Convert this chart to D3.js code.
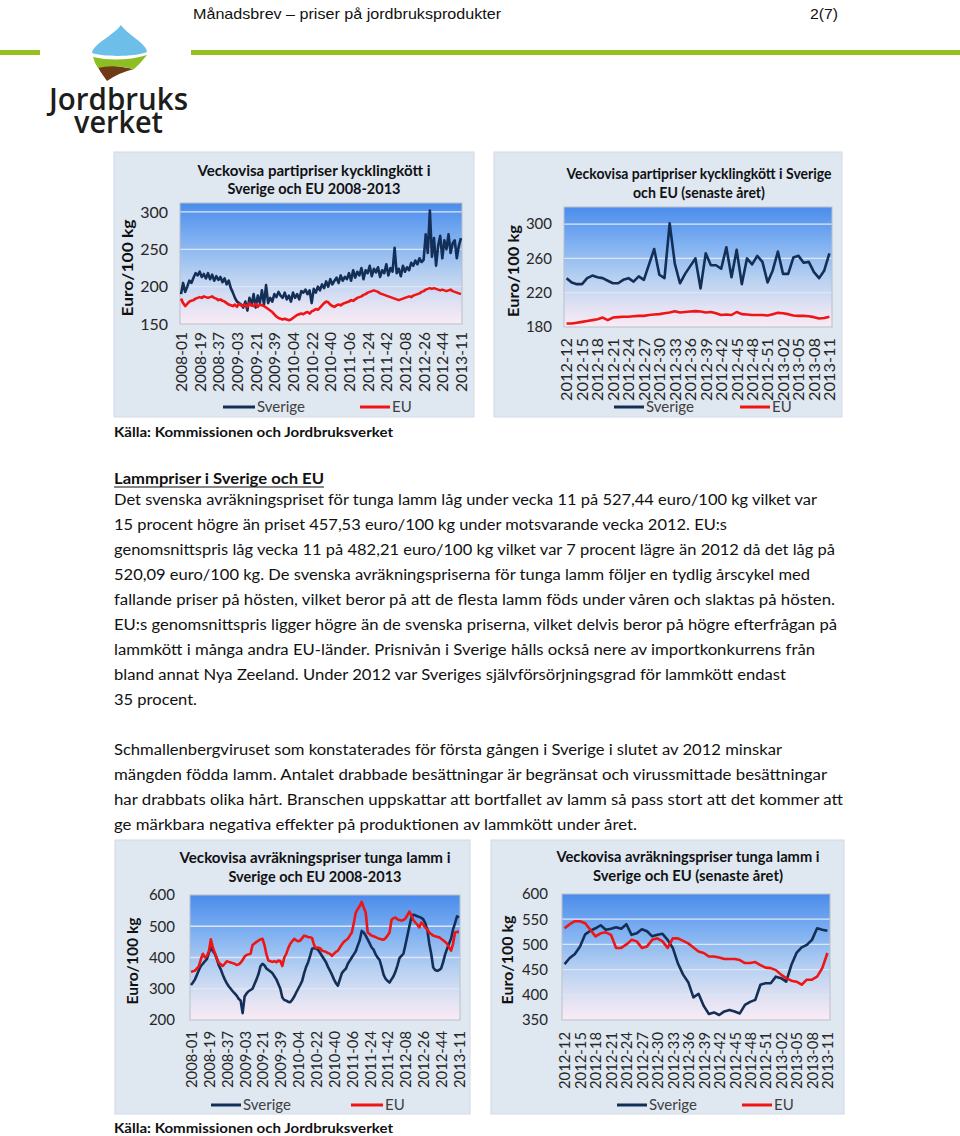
<!DOCTYPE html>
<html><head><meta charset="utf-8">
<script src="https://cdnjs.cloudflare.com/ajax/libs/d3/7.8.5/d3.min.js"></script>
<style>body{margin:0;background:#fff}svg{display:block}</style>
</head><body>
<svg id="page" width="960" height="1136"></svg>
<script>
// ---------- DATA ----------
const seriesNames = ["Sverige", "EU"];
const longTicks = ["2008-01","2008-19","2008-37","2009-03","2009-21","2009-39","2010-04","2010-22","2010-40","2011-06","2011-24","2011-42","2012-08","2012-26","2012-44","2013-11"];
const shortTicks = ["2012-12","2012-15","2012-18","2012-21","2012-24","2012-27","2012-30","2012-33","2012-36","2012-39","2012-42","2012-45","2012-48","2012-51","2013-02","2013-05","2013-08","2013-11"];

// Chicken 2008-2013 (every second week)
const chickenLongSE = [190,205,193,200,208,205,
212,218,215,220,213,217,211,218,
210,216,208,214,209,213,206,211,
203,208,198,192,185,180,178,
176,172,180,168,185,175,190,
172,188,178,195,176,202,178,185,
180,190,186,193,188,185,192,183,
188,180,192,185,190,183,194,
192,196,190,195,178,197,192,200,
195,203,198,207,200,210,203,208,212,205,215,208,213,210,
218,208,222,212,220,215,225,210,222,218,228,214,224,219,226,213,
222,218,230,215,225,220,252,218,224,214,228,220,
226,222,232,228,235,230,238,233,236,
270,245,302,240,265,228,255,268,238,262,250,270,245,258,262,238,255,265];
const chickenLongEU = [184,178,174,177,180,181,
182,184,185,186,185,187,186,185,186,187,
185,184,182,183,181,180,178,176,175,
174,176,173,177,175,174,176,173,178,175,174,177,173,176,175,
174,172,170,168,166,163,160,158,157,156,
157,156,155,156,158,160,162,163,164,
163,165,166,164,167,168,170,169,172,175,178,180,
179,176,174,173,175,176,175,177,178,179,
180,182,181,183,185,186,187,189,190,192,193,194,195,194,
193,191,190,189,188,187,186,185,184,183,182,
183,184,185,186,187,186,188,189,190,191,193,194,196,197,198,
197,198,197,196,195,196,195,194,195,196,194,193,192,191,190];

// Chicken last year (weekly)
const chickenShortSE = [237,232,230,230,237,240,238,237,234,231,231,235,237,233,239,235,253,271,241,237,301,254,231,242,251,260,225,266,252,252,248,273,238,270,230,260,253,263,256,232,246,268,242,242,261,263,255,256,244,237,246,266];
const chickenShortEU = [184,184,185,186,187,188,189,191,188,191,191.5,192,192,192.5,193,193,194,194.5,195,196,197,198.5,197,197.5,198,198.5,198,197,197.5,196,194,194.5,194,197.5,195,194.5,194,194,194,193.5,195,196.5,196,195,193.5,193,193,192.5,191.5,190,190.5,192];

// Lamb 2008-2013 (every second week)
const lambLongSE = [312,320,330,345,360,373,380,388,395,415,
432,420,412,395,375,362,345,330,318,308,
300,292,285,278,268,262,222,275,285,292,
296,300,315,330,347,372,380,375,365,360,
355,350,340,330,315,300,272,264,262,258,
257,265,275,288,300,312,325,350,370,385,
405,428,430,428,425,415,405,395,385,370,
358,345,330,318,310,330,350,358,364,380,
390,400,410,420,438,455,485,480,470,458,
445,432,425,410,400,392,370,345,332,325,
320,330,340,355,375,398,405,412,440,470,
500,528,537,535,532,530,527,522,510,490,
445,412,368,360,357,360,365,385,410,428,
445,460,490,510,532,528];
const lambLongEU = [354,356,358,365,373,395,412,400,405,420,
458,432,415,398,383,378,373,380,388,386,
384,382,380,376,378,383,392,403,408,410,
412,440,445,450,454,458,460,440,410,390,
388,386,388,385,390,389,373,400,412,430,
444,452,460,455,452,454,462,470,468,465,
465,462,440,430,432,430,422,420,418,414,
412,405,412,418,422,432,442,450,455,460,
470,480,510,544,555,565,578,560,544,480,
475,470,468,465,462,460,458,457,462,470,
480,520,526,528,522,520,518,520,525,535,
547,535,520,512,505,496,512,505,496,490,
480,475,470,468,466,465,460,455,450,444,
432,422,444,480,482,482];

// Lamb last year (weekly)
const lambShortSE = [461,473,481,496,520,527,532,538,529,531,534,531,540,519,522,530,526,516,519,521,509,493,462,440,425,395,402,378,362,365,360,367,370,367,363,380,386,390,420,423,423,436,433,426,459,483,494,499,509,532,529,527];
const lambShortEU = [532,540,546,546,542,529,516,522,524,519,493,493,500,509,506,493,496,509,512,506,493,512,512,507,502,494,486,483,476,476,474,471,471,471,469,463,463,465,459,454,453,449,440,433,428,426,420,430,430,436,453,483];

// ---------- TEXT ----------
const para1 = [
 "Det svenska avräkningspriset för tunga lamm låg under vecka 11 på 527,44 euro/100 kg vilket var",
 "15 procent högre än priset 457,53 euro/100 kg under motsvarande vecka 2012. EU:s",
 "genomsnittspris låg vecka 11 på 482,21 euro/100 kg vilket var 7 procent lägre än 2012 då det låg på",
 "520,09 euro/100 kg. De svenska avräkningspriserna för tunga lamm följer en tydlig årscykel med",
 "fallande priser på hösten, vilket beror på att de flesta lamm föds under våren och slaktas på hösten.",
 "EU:s genomsnittspris ligger högre än de svenska priserna, vilket delvis beror på högre efterfrågan på",
 "lammkött i många andra EU-länder. Prisnivån i Sverige hålls också nere av importkonkurrens från",
 "bland annat Nya Zeeland. Under 2012 var Sveriges självförsörjningsgrad för lammkött endast",
 "35 procent."
];
const para2 = [
 "Schmallenbergviruset som konstaterades för första gången i Sverige i slutet av 2012 minskar",
 "mängden födda lamm. Antalet drabbade besättningar är begränsat och virussmittade besättningar",
 "har drabbats olika hårt. Branschen uppskattar att bortfallet av lamm så pass stort att det kommer att",
 "ge märkbara negativa effekter på produktionen av lammkött under året."
];

// ---------- LAYOUT ----------
const para1Ends = [817,727,835,810,835,837,815,786,197];
const para2Ends = [782,827,843,637];

const svg = d3.select("#page");
const defs = svg.append("defs");
const grad = defs.append("linearGradient").attr("id","plotGrad").attr("x1",0).attr("y1",0).attr("x2",0).attr("y2",1);
[[0,"#4b8ceb"],[0.3,"#7eb0f1"],[0.6,"#b8d1f1"],[0.85,"#e4e3f3"],[1,"#f9ebf5"]].forEach(s=>grad.append("stop").attr("offset",s[0]).attr("stop-color",s[1]));

const BODY = "Lato, 'Open Sans', sans-serif";

// Header
svg.append("text").attr("x",193).attr("y",19).attr("font-family","'Liberation Sans', Arial, sans-serif").attr("font-size",15)
  .attr("textLength",308).attr("lengthAdjust","spacingAndGlyphs").attr("fill","#111").text("Månadsbrev – priser på jordbruksprodukter");
svg.append("text").attr("x",810).attr("y",19).attr("font-family","'Liberation Sans', Arial, sans-serif").attr("font-size",15)
  .attr("textLength",28).attr("lengthAdjust","spacingAndGlyphs").attr("fill","#111").text("2(7)");
svg.append("rect").attr("x",0).attr("y",50).attr("width",40).attr("height",5).attr("fill","#95c11f");
svg.append("rect").attr("x",191).attr("y",50).attr("width",769).attr("height",5).attr("fill","#95c11f");

// Logo
const logo = svg.append("g");
logo.append("path").attr("d","M121,25 C127,34 147,44 147,52 C134,57 105,57 92,53 C93,44 114,35 121,25 Z").attr("fill","#6dbfea");
logo.append("path").attr("d","M95,62 Q115,66 134,69 Q118,73 107,81 Q100,72 95,62 Z").attr("fill","#6e3b16");
logo.append("path").attr("d","M93,57 Q120,63 147,55 Q141,63 134,69 Q113,64 98,68 Q94,62 93,57 Z").attr("fill","#8dbf24");
const logoText = logo.append("text").attr("font-family","'Open Sans', Lato, sans-serif").attr("font-weight",600)
  .attr("font-size",30).attr("fill","#1d1d1b");
logoText.append("tspan").attr("x",49).attr("y",110).attr("textLength",139).attr("lengthAdjust","spacingAndGlyphs").text("Jordbruks");
logoText.append("tspan").attr("x",74).attr("y",133).attr("textLength",89).attr("lengthAdjust","spacingAndGlyphs").text("verket");

// Body text
function srcLine(y){
  svg.append("text").attr("x",114).attr("y",y).attr("font-family",BODY).attr("font-weight","bold").attr("font-size",14)
   .attr("textLength",279).attr("lengthAdjust","spacingAndGlyphs").attr("fill","#111").text("Källa: Kommissionen och Jordbruksverket");
}
srcLine(437);
srcLine(1133);
svg.append("text").attr("x",114).attr("y",484).attr("font-family",BODY).attr("font-weight","bold").attr("font-size",15.5)
  .attr("textLength",210).attr("lengthAdjust","spacingAndGlyphs").attr("fill","#111").text("Lammpriser i Sverige och EU");
svg.append("line").attr("x1",114).attr("x2",324).attr("y1",487).attr("y2",487).attr("stroke","#111").attr("stroke-width",1.2);
svg.append("g").selectAll("text").data(para1).join("text")
  .attr("x",114).attr("y",(d,i)=>505+25*i).attr("font-family",BODY).attr("font-size",15.5).attr("fill","#111")
  .attr("textLength",(d,i)=>para1Ends[i]-114).attr("lengthAdjust","spacingAndGlyphs").text(d=>d);
svg.append("g").selectAll("text").data(para2).join("text")
  .attr("x",114).attr("y",(d,i)=>755+25*i).attr("font-family",BODY).attr("font-size",15.5).attr("fill","#111")
  .attr("textLength",(d,i)=>para2Ends[i]-114).attr("lengthAdjust","spacingAndGlyphs").text(d=>d);

// ---------- CHARTS ----------
const SE_COLOR = "#142f57", EU_COLOR = "#f01515";
function drawChart(c){
  const [bx0,by0,bx1,by1] = c.box, [px0,py0,px1,py1] = c.plot;
  const g = svg.append("g");
  g.append("rect").attr("x",bx0).attr("y",by0).attr("width",bx1-bx0).attr("height",by1-by0)
    .attr("fill","#dfe7f1").attr("stroke","#d2dae5");
  const x = d3.scalePoint().domain(d3.range(c.se.length)).range([px0,px1]).padding(0.5);
  const y = d3.scaleLinear().domain(c.yDomain).range([py1,py0]);
  g.append("rect").attr("x",px0).attr("y",py0).attr("width",px1-px0).attr("height",py1-py0).attr("fill","url(#plotGrad)");
  g.append("g").selectAll("line").data(c.yTicks.filter(t=>t>c.yDomain[0] && t<c.yDomain[1])).join("line")
    .attr("x1",px0).attr("x2",px1).attr("y1",d=>y(d)).attr("y2",d=>y(d)).attr("stroke","#dbe7f8").attr("stroke-width",1.3);
  g.append("rect").attr("x",px0).attr("y",py0).attr("width",px1-px0).attr("height",py1-py0)
    .attr("fill","none").attr("stroke","#b9c0ca").attr("stroke-width",1);
  // y axis
  const ya = g.append("g").attr("transform",`translate(${px0},0)`)
    .call(d3.axisLeft(y).tickValues(c.yTicks).tickSize(0).tickPadding(c.yPad).tickFormat(d3.format("d")));
  ya.select(".domain").remove();
  ya.selectAll("text").attr("font-family",BODY).attr("font-size",c.yFont).attr("fill","#262626");
  // x axis
  const xa = g.append("g").attr("transform",`translate(0,${py1})`)
    .call(d3.axisBottom(x).tickValues(c.ticks.map((t,j)=>j*c.tickStep)).tickSize(0).tickFormat(d=>c.ticks[d/c.tickStep]));
  xa.select(".domain").remove();
  xa.selectAll("text").attr("transform","rotate(-90)").attr("x",-c.xPad).attr("y",0).attr("dy","0.36em")
    .attr("text-anchor","end").attr("font-family",BODY).attr("font-size",15).attr("fill","#262626")
    .attr("textLength",c.xLen).attr("lengthAdjust","spacingAndGlyphs");
  // lines
  const line = d3.line().x((d,i)=>x(i)).y(d=>y(d));
  g.append("path").datum(c.se).attr("d",line).attr("fill","none").attr("stroke",SE_COLOR).attr("stroke-width",2.6).attr("stroke-linejoin","round");
  g.append("path").datum(c.eu).attr("d",line).attr("fill","none").attr("stroke",EU_COLOR).attr("stroke-width",2.6).attr("stroke-linejoin","round");
  // title
  c.title.forEach((t,i)=>{
    g.append("text").attr("x",c.titleX).attr("y",c.titleY[i]).attr("text-anchor","middle").attr("font-family",BODY)
      .attr("font-weight","bold").attr("font-size",15.5).attr("fill","#111")
      .attr("textLength",c.titleLen[i]).attr("lengthAdjust","spacingAndGlyphs").text(t);
  });
  // y title
  g.append("text").attr("transform",`translate(${c.yt[0]},${c.yt[1]}) rotate(-90)`).attr("text-anchor","middle").attr("dy","0.35em")
    .attr("font-family",BODY).attr("font-weight","bold").attr("font-size",15).attr("fill","#111")
    .attr("textLength",c.yt[2]).attr("lengthAdjust","spacingAndGlyphs").text("Euro/100 kg");
  // legend
  const items = [{n:seriesNames[0],col:SE_COLOR,xs:c.leg.se},{n:seriesNames[1],col:EU_COLOR,xs:c.leg.eu}];
  items.forEach(it=>{
    g.append("line").attr("x1",it.xs[0]).attr("x2",it.xs[1]).attr("y1",c.leg.y).attr("y2",c.leg.y).attr("stroke",it.col).attr("stroke-width",3);
    g.append("text").attr("x",it.xs[1]+2).attr("y",c.leg.y).attr("dy","0.35em").attr("font-family",BODY).attr("font-size",15)
      .attr("fill","#404040").text(it.n);
  });
}

drawChart({box:[114,152,474,417], plot:[180,203,462,324], yDomain:[150,312], yTicks:[150,200,250,300], yPad:12, yFont:16,
  xPad:8, xLen:60, tickStep:9, ticks:longTicks, se:chickenLongSE, eu:chickenLongEU,
  title:["Veckovisa partipriser kycklingkött i","Sverige och EU 2008-2013"], titleX:314, titleY:[176,194], titleLen:[233,173],
  yt:[128,268,97], leg:{y:407, se:[223,255], eu:[360,390]}});
drawChart({box:[494,152,842,417], plot:[564,207,832,327], yDomain:[180,320], yTicks:[180,220,260,300], yPad:12, yFont:15,
  xPad:11, xLen:63, tickStep:3, ticks:shortTicks, se:chickenShortSE, eu:chickenShortEU,
  title:["Veckovisa partipriser  kycklingkött i Sverige","och EU (senaste året)"], titleX:699, titleY:[179,198], titleLen:[265,132],
  yt:[514,271,92], leg:{y:407, se:[614,644], eu:[740,770]}});
drawChart({box:[115,840,470,1114], plot:[190,895,460,1020], yDomain:[200,600], yTicks:[200,300,400,500,600], yPad:15, yFont:15,
  xPad:11, xLen:57, tickStep:9, ticks:longTicks, se:lambLongSE, eu:lambLongEU,
  title:["Veckovisa avräkningspriser  tunga lamm i","Sverige och EU 2008-2013"], titleX:315, titleY:[863,882], titleLen:[271,173],
  yt:[133,961,87], leg:{y:1105, se:[211,241], eu:[351,383]}});
drawChart({box:[491,840,844,1114], plot:[562,894,830,1020], yDomain:[350,600], yTicks:[350,400,450,500,550,600], yPad:14, yFont:15,
  xPad:12, xLen:57, tickStep:3, ticks:shortTicks, se:lambShortSE, eu:lambShortEU,
  title:["Veckovisa avräkningspriser tunga lamm i","Sverige och EU (senaste året)"], titleX:688, titleY:[862,881], titleLen:[263,190],
  yt:[508,960,89], leg:{y:1105, se:[617,647], eu:[742,772]}});
</script>
</body></html>
